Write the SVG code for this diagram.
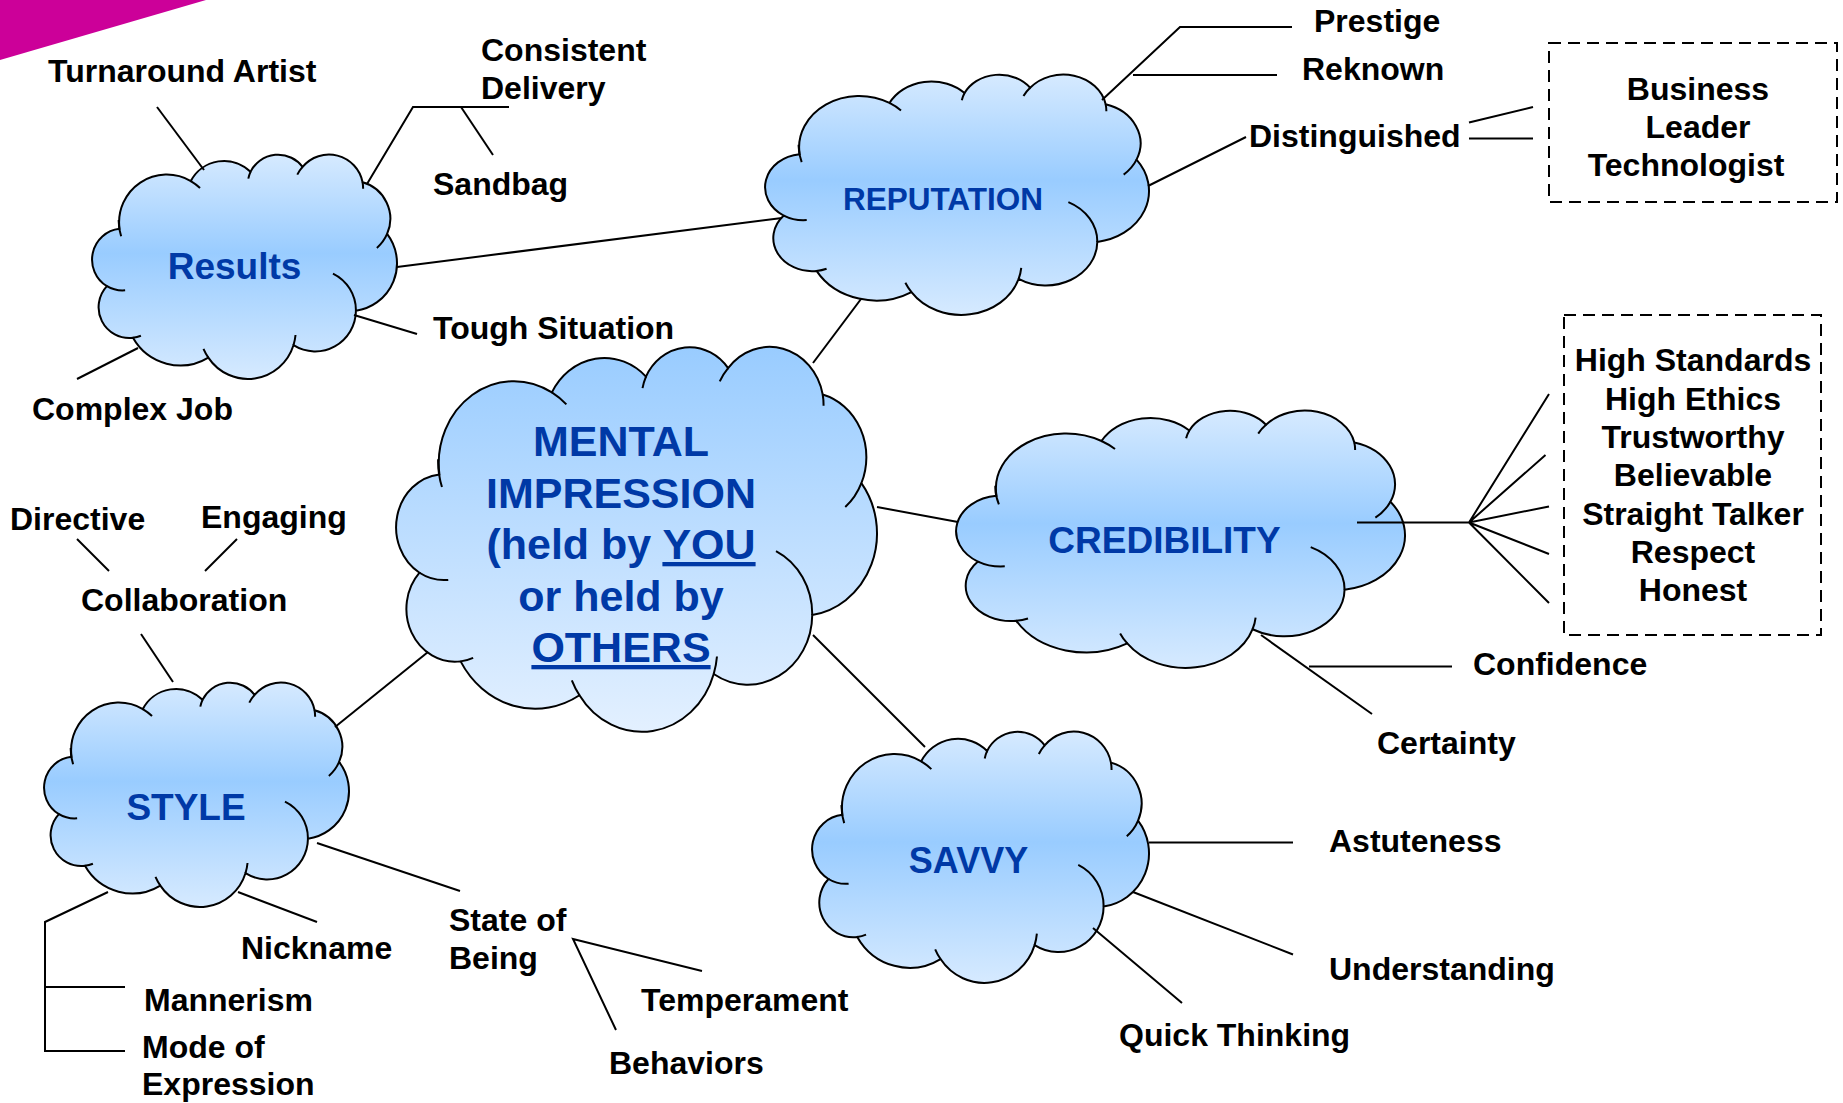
<svg xmlns="http://www.w3.org/2000/svg" xmlns:xlink="http://www.w3.org/1999/xlink" width="1843" height="1103" viewBox="0 0 1843 1103">
  <style>
    .lbl { font-family: "Liberation Sans", Arial, sans-serif; font-weight: bold; font-size: 32px; fill: #000; }
    .mid { text-anchor: middle; }
    .cl { font-family: "Liberation Sans", Arial, sans-serif; font-weight: bold; fill: #0039a6; text-anchor: middle; }
    .ctr { font-size: 43px; }
    .ln { stroke: #000; stroke-width: 2; fill: none; stroke-linecap: butt; stroke-linejoin: miter; }
    .box { fill: none; stroke: #000; stroke-width: 2; stroke-dasharray: 12 7; }
  </style>
  <defs>
    <!-- outer clouds: light at the edges, saturated band across the middle -->
    <linearGradient id="gOuter" x1="0" y1="0" x2="0" y2="1">
      <stop offset="0" stop-color="#d6eaff"/>
      <stop offset="0.44" stop-color="#99ccff"/>
      <stop offset="1" stop-color="#d6eaff"/>
    </linearGradient>
    <!-- central cloud: saturated at the top, fading downward -->
    <linearGradient id="gCenter" x1="0" y1="0" x2="0" y2="1">
      <stop offset="0" stop-color="#99ccff"/>
      <stop offset="1" stop-color="#e3f0ff"/>
    </linearGradient>
    <!-- cloud outline in a 43200 x 43200 box -->
    <path id="cloudBody" stroke="#000" stroke-width="2" vector-effect="non-scaling-stroke"
      d="M 3900 14370
         A 6753 9190 0 0 1 14000 5192
         A 5333 7267 0 0 1 22451 3422
         A 4365 5945 0 0 1 29828 2471
         A 4857 6595 0 0 1 38324 5426
         A 5333 7273 0 0 1 41798 15354
         A 6775 9220 0 0 1 37384 30097
         A 5785 7867 0 0 1 28536 36708
         A 6752 9215 0 0 1 16478 39090
         A 7720 10543 0 0 1 5802 35296
         A 4360 5918 0 0 1 2111 25374
         A 4345 5945 0 0 1 3900 14370 Z"/>
    <!-- inner fold strokes of the cloud -->
    <path id="cloudFolds" fill="none" stroke="#000" stroke-width="2" vector-effect="non-scaling-stroke"
      d="M 4693 26177 A 4345 5945 0 0 1 2111 25374
         M 6928 34899 A 4360 5918 0 0 1 5802 35296
         M 16478 39090 A 6752 9215 0 0 1 15792 37419
         M 28827 34751 A 6752 9215 0 0 1 28536 36708
         M 34129 22954 A 5785 7867 0 0 1 37384 30097
         M 41798 15354 A 5333 7273 0 0 1 40350 18030
         M 38324 5426 A 4857 6595 0 0 1 38400 6690
         M 29078 3952 A 4857 6595 0 0 1 29828 2471
         M 22141 4720 A 4365 5945 0 0 1 22451 3422
         M 14000 5192 A 6753 9190 0 0 1 15300 6540
         M 4127 15789 A 6753 9190 0 0 1 3784 12686"/>
  </defs>

  <rect x="0" y="0" width="1843" height="1103" fill="#fff"/>
  <!-- corner accent -->
  <polygon points="0,0 206,0 0,60" fill="#cc0099"/>

  <!-- clouds -->
  <g id="node-results">
    <g transform="translate(92 154) scale(0.0070602 0.0052083)">
      <use href="#cloudBody" fill="url(#gOuter)"/>
      <use href="#cloudFolds"/>
    </g>
    <text class="cl" x="234.5" y="279" font-size="37">Results</text>
  </g>

  <g id="node-reputation">
    <g transform="translate(765 74) scale(0.0088889 0.0055787)">
      <use href="#cloudBody" fill="url(#gOuter)"/>
      <use href="#cloudFolds"/>
    </g>
    <text class="cl" x="943" y="210" font-size="31.5">REPUTATION</text>
  </g>

  <g id="node-mental">
    <g transform="translate(396 346) scale(0.0111343 0.0089352)">
      <use href="#cloudBody" fill="url(#gCenter)"/>
      <use href="#cloudFolds"/>
    </g>
    <text class="cl ctr" x="621" y="456">MENTAL</text>
    <text class="cl ctr" x="621" y="507.5">IMPRESSION</text>
    <text class="cl ctr" x="621" y="559">(held by <tspan text-decoration="underline">YOU</tspan></text>
    <text class="cl ctr" x="621" y="610.5">or held by</text>
    <text class="cl ctr" x="621" y="662" text-decoration="underline">OTHERS</text>
  </g>

  <g id="node-credibility">
    <g transform="translate(956 410) scale(0.0103935 0.0059722)">
      <use href="#cloudBody" fill="url(#gOuter)"/>
      <use href="#cloudFolds"/>
    </g>
    <text class="cl" x="1164.5" y="553" font-size="37">CREDIBILITY</text>
  </g>

  <g id="node-style">
    <g transform="translate(44 682) scale(0.0070602 0.0052083)">
      <use href="#cloudBody" fill="url(#gOuter)"/>
      <use href="#cloudFolds"/>
    </g>
    <text class="cl" x="186" y="820" font-size="37">STYLE</text>
  </g>

  <g id="node-savvy">
    <g transform="translate(812 731) scale(0.0078009 0.0058333)">
      <use href="#cloudBody" fill="url(#gOuter)"/>
      <use href="#cloudFolds"/>
    </g>
    <text class="cl" x="968.5" y="873" font-size="36">SAVVY</text>
  </g>

  <!-- connectors -->
  <g id="connectors" class="ln">
    <line x1="397" y1="267" x2="782" y2="218"/>
    <line x1="157" y1="107" x2="204" y2="170"/>
    <polyline points="367,184 413,107 509,107"/>
    <line x1="461" y1="107" x2="493" y2="155"/>
    <line x1="354" y1="315" x2="417" y2="334"/>
    <line x1="138" y1="348" x2="77" y2="379"/>
    <line x1="861" y1="299" x2="813" y2="363"/>
    <polyline points="1102,100 1180,27 1292,27"/>
    <line x1="1133" y1="75" x2="1277" y2="75"/>
    <line x1="1148" y1="186" x2="1246" y2="137"/>
    <line x1="1469" y1="122.5" x2="1533" y2="107"/>
    <line x1="1469" y1="138.5" x2="1533" y2="138.5"/>
    <line x1="877" y1="507" x2="958" y2="522"/>
    <path d="M1357 522.5 H1469 M1469 522.5 L1549 394 M1469 522.5 L1545.5 455 M1469 522.5 L1549 506.5 M1469 522.5 L1549 554 M1469 522.5 L1549 603"/>
    <line x1="1261" y1="635" x2="1372" y2="714"/>
    <line x1="1309" y1="666.5" x2="1452" y2="666.5"/>
    <line x1="813" y1="635" x2="925" y2="747"/>
    <line x1="1149" y1="842.5" x2="1293" y2="842.5"/>
    <line x1="1133" y1="892" x2="1293" y2="954.5"/>
    <line x1="1093" y1="928" x2="1182" y2="1003"/>
    <line x1="428" y1="652" x2="335" y2="727"/>
    <line x1="141" y1="634" x2="173" y2="682"/>
    <line x1="77" y1="539" x2="109" y2="571"/>
    <line x1="237" y1="539" x2="205" y2="571"/>
    <path d="M108 892 L45 922 L45 1051 L125 1051 M45 987 L125 987"/>
    <line x1="238" y1="892" x2="317" y2="922"/>
    <line x1="317" y1="843" x2="460" y2="891"/>
    <polyline points="702,971 573,939 616,1030"/>
  </g>

  <!-- leaf labels -->
  <g id="labels-results">
    <text class="lbl" x="48" y="82">Turnaround Artist</text>
    <text class="lbl" x="481" y="61">Consistent</text>
    <text class="lbl" x="481" y="99">Delivery</text>
    <text class="lbl" x="433" y="195">Sandbag</text>
    <text class="lbl" x="433" y="339">Tough Situation</text>
    <text class="lbl" x="32" y="420">Complex Job</text>
  </g>

  <g id="labels-reputation">
    <text class="lbl" x="1314" y="32">Prestige</text>
    <text class="lbl" x="1302" y="80">Reknown</text>
    <text class="lbl" x="1249" y="147">Distinguished</text>
  </g>

  <g id="box-distinguished">
    <rect class="box" x="1549" y="43" width="288" height="159"/>
    <text class="lbl mid" x="1698" y="100">Business</text>
    <text class="lbl mid" x="1698" y="138">Leader</text>
    <text class="lbl mid" x="1686" y="176">Technologist</text>
  </g>

  <g id="box-credibility">
    <rect class="box" x="1564" y="315" width="257" height="320"/>
    <text class="lbl mid" x="1693" y="371">High Standards</text>
    <text class="lbl mid" x="1693" y="410">High Ethics</text>
    <text class="lbl mid" x="1693" y="448">Trustworthy</text>
    <text class="lbl mid" x="1693" y="486">Believable</text>
    <text class="lbl mid" x="1693" y="525">Straight Talker</text>
    <text class="lbl mid" x="1693" y="563">Respect</text>
    <text class="lbl mid" x="1693" y="601">Honest</text>
  </g>

  <g id="labels-credibility">
    <text class="lbl" x="1473" y="675">Confidence</text>
    <text class="lbl" x="1377" y="754">Certainty</text>
  </g>

  <g id="labels-savvy">
    <text class="lbl" x="1329" y="852">Astuteness</text>
    <text class="lbl" x="1329" y="980">Understanding</text>
    <text class="lbl" x="1119" y="1046">Quick Thinking</text>
  </g>

  <g id="labels-style">
    <text class="lbl" x="10" y="530">Directive</text>
    <text class="lbl" x="201" y="528">Engaging</text>
    <text class="lbl" x="81" y="611">Collaboration</text>
    <text class="lbl" x="241" y="959">Nickname</text>
    <text class="lbl" x="144" y="1011">Mannerism</text>
    <text class="lbl" x="142" y="1058">Mode of</text>
    <text class="lbl" x="142" y="1095">Expression</text>
    <text class="lbl" x="449" y="931">State of</text>
    <text class="lbl" x="449" y="969">Being</text>
    <text class="lbl" x="641" y="1011">Temperament</text>
    <text class="lbl" x="609" y="1074">Behaviors</text>
  </g>
</svg>
